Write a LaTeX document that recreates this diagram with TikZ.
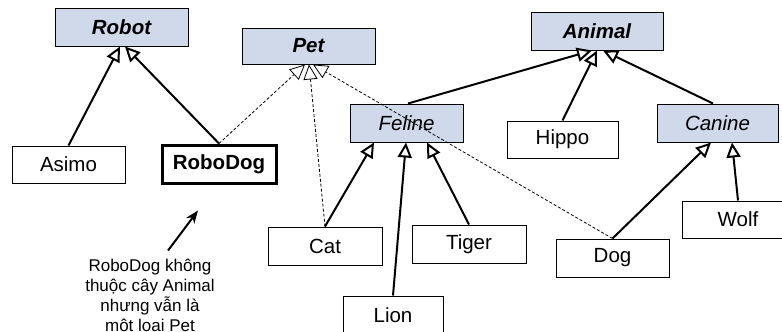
\documentclass[tikz,border=0pt]{standalone}
\usepackage{fontspec}
\setmainfont{Liberation Sans}
\usetikzlibrary{arrows.meta,calc}
\definecolor{boxfill}{RGB}{208,217,234}
\begin{document}
\begin{tikzpicture}[x=1pt,y=-1pt,
  box/.style={draw, line width=1pt, inner sep=0pt, minimum height=38pt, font=\fontsize{20.5}{24}\selectfont},
  abs/.style={box, fill=boxfill, font=\fontsize{20.5}{24}\selectfont\bfseries\itshape},
  absi/.style={box, fill=boxfill, font=\fontsize{20.5}{24}\selectfont\itshape},
  inh/.style={line width=2pt, -{Triangle[length=15pt,width=14pt,fill=white]}},
  impl/.style={line width=0.8pt, dash pattern=on 3pt off 2pt, -{Triangle[length=15pt,width=14pt,fill=white]}},
]
\useasboundingbox (0,0) rectangle (782,332);
% abstract classes
\node[abs, minimum width=133pt] (robot) at (121.5,27) {Robot};
\node[abs, minimum width=133pt, minimum height=36pt] (pet) at (308.5,46) {Pet};
\node[abs, minimum width=132pt] (animal) at (597,31) {Animal};
\node[absi, minimum width=113pt] (feline) at (406.5,123) {Feline};
\node[absi, minimum width=121pt] (canine) at (717.5,123) {Canine};
% concrete classes
\node[box, minimum width=111pt, minimum height=37pt] (hippo) at (562.5,139.5) {Hippo};
\node[box, minimum width=113pt, minimum height=37pt] (asimo) at (68.5,164.5) {Asimo};
\node[box, minimum width=114pt, line width=3pt, font=\fontsize{20.5}{24}\selectfont\bfseries] (robodog) at (219,164) {RoboDog};
\node[box, minimum width=114pt] (cat) at (325,246) {Cat};
\node[box, minimum width=100pt] (lion) at (393,315) {Lion};
\node[box, minimum width=114pt] (tiger) at (469,244) {Tiger};
\node[box, minimum width=113pt] (dog) at (612.5,258) {Dog};
\node[box, minimum width=112pt, minimum height=37pt] (wolf) at (738,219.5) {Wolf};
% note
\node[align=center, inner sep=0pt, anchor=north, font=\fontsize{17}{20.2}\selectfont] (note) at (150,258.5) {RoboDog không\\thuộc cây Animal\\nhưng vẫn là\\một loại Pet};
% inheritance
\draw[inh] (asimo.north) -- ($(robot.south)+(-1.5,0)$);
\draw[inh] (robodog.north) -- ($(robot.south)+(3.5,0)$);
\draw[inh] ($(feline.north)+(1.5,0)$) -- ($(animal.south)+(-5,0)$);
\draw[inh] (hippo.north) -- (animal.south);
\draw[inh] ($(canine.north)+(-4.5,0)$) -- ($(animal.south)+(6,0)$);
\draw[inh] (cat.north) -- ($(feline.south)+(-32.5,0)$);
\draw[inh] (lion.north) -- ($(feline.south)+(-0.5,0)$);
\draw[inh] (tiger.north) -- ($(feline.south)+(20.5,0)$);
\draw[inh] (dog.north) -- ($(canine.south)+(-6.5,0)$);
\draw[inh] (wolf.north) -- ($(canine.south)+(14.5,0)$);
% Pet implementation
\draw[impl] (robodog.north) -- ($(pet.south)+(-3.5,0)$);
\draw[impl] (cat.north) -- ($(pet.south)+(0.5,0)$);
\draw[impl] (dog.north) -- ($(pet.south)+(4.5,0)$);
% note arrow
\draw[line width=2pt, -{Stealth[length=13pt,width=10pt]}] ($(note.north)+(18,-8)$) -- ($(note.north)+(48,-48)$);
\end{tikzpicture}
\end{document}
